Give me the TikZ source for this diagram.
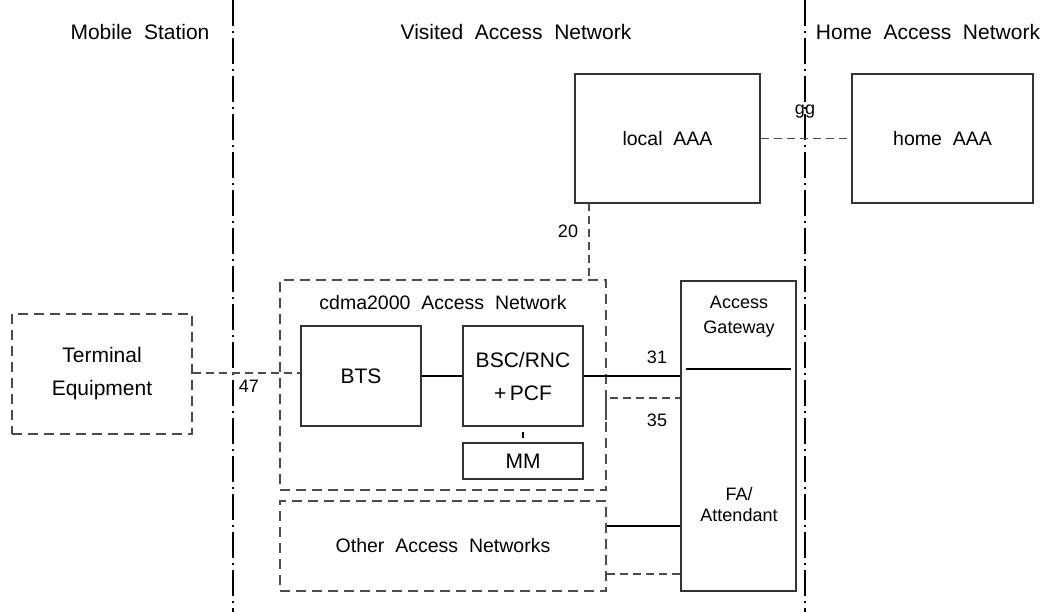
\documentclass[tikz,border=0pt]{standalone}
\usepackage{fontspec}
\setmainfont{Liberation Sans}
\usetikzlibrary{calc}
\begin{document}
\begin{tikzpicture}[x=1pt,y=-1pt,
  box/.style={draw=black!80,line width=1.1pt,inner sep=0pt},
  dbox/.style={draw=black!70,line width=1.1pt,dash pattern=on 10pt off 6pt,inner sep=0pt},
  dline/.style={draw=black!70,line width=1.1pt,dash pattern=on 8pt off 5pt},
  sline/.style={draw=black,line width=1.7pt},
  ddline/.style={draw=black,line width=1.2pt,dash pattern=on 26pt off 5pt on 2pt off 5pt},
  big/.style={font=\fontsize{21}{25}\selectfont},
  mid/.style={font=\fontsize{19.5}{23}\selectfont},
  sml/.style={font=\fontsize{18}{21}\selectfont},
  lbl/.style={font=\fontsize{18}{21}\selectfont,inner sep=0pt}
]
\useasboundingbox (0,0) rectangle (1045,612);
% region separators
\coordinate (s1t) at (233,0); \coordinate (s1b) at (233,612);
\coordinate (s2t) at (805,0); \coordinate (s2b) at (805,612);
\draw[ddline] (s1t) -- (s1b);
\draw[ddline] (s2t) -- (s2b);
% headers
\node[big] (h1) at (140,32) {Mobile\ \ Station};
\node[big] (h2) at (516,32) {Visited\ \ Access\ \ Network};
\node[big] (h3) at (928,32) {Home\ \ Access\ \ Network};
% AAA boxes
\node[box,minimum width=185pt,minimum height=129pt,mid] (laaa) at (667.5,138.5) {local\ \ AAA};
\node[box,minimum width=181pt,minimum height=129pt,mid] (haaa) at (942.5,138.5) {home\ \ AAA};
% cdma2000 access network
\node[dbox,minimum width=326pt,minimum height=210pt] (cdma) at (443,385) {};
\node[mid] (cdmat) at (443,303) {cdma2000\ \ Access\ \ Network};
\node[box,minimum width=120pt,minimum height=100pt,big] (bts) at (361,376) {BTS};
\node[box,minimum width=120pt,minimum height=100pt,big,align=center] (bsc) at (523,376) {BSC/RNC\\[8pt]+\,PCF};
\node[box,minimum width=120pt,minimum height=36pt,big] (mm) at (523,461) {MM};
% other access networks
\node[dbox,minimum width=326pt,minimum height=90pt,mid] (oan) at (443,546) {Other\ \ Access\ \ Networks};
% terminal equipment
\node[dbox,minimum width=180pt,minimum height=120pt,big,align=center] (te) at (102,374) {Terminal\\[8pt]Equipment};
% access gateway
\node[box,minimum width=115pt,minimum height=310pt] (agw) at (738.5,436) {};
\node[sml,align=center] (agt) at (739,317) {Access\\[4pt]Gateway};
\node[sml,align=center] (fat) at (739,505) {FA/\\Attendant};
\coordinate (agl) at (686,369);
\coordinate (agr) at (791,369);
\draw[line width=1.3pt] (agl) -- (agr);
% connectors
\draw[dline] (laaa.east) -- (haaa.west);
\node[lbl] (lgg) at (805,112) {gg};
\coordinate (c20a) at (589,203);
\coordinate (c20b) at (589,280);
\draw[dline] (c20a) -- (c20b);
\node[lbl] (l20) at (568,231) {20};
\draw[dline] (te.east |- 0,373) -- (bts.west |- 0,373);
\node[lbl] (l47) at (249,386) {47};
\draw[sline] (bts.east) -- (bsc.west);
\draw[sline] (bsc.east) -- (bsc.east -| agw.west);
\node[lbl] (l31) at (657,357) {31};
\draw[line width=1.2pt] ($(bsc.south)!0.35!(mm.north)$) -- ($(bsc.south)!0.75!(mm.north)$);
\coordinate (c35a) at (606,398);
\coordinate (c35b) at (606,420);
\draw[dline] (c35b) -- (c35a) -- (c35a -| agw.west);
\node[lbl] (l35) at (657,420) {35};
\draw[sline] (oan.east |- 0,526) -- (agw.west |- 0,526);
\draw[dline] (oan.east |- 0,574) -- (agw.west |- 0,574);
\end{tikzpicture}
\end{document}
